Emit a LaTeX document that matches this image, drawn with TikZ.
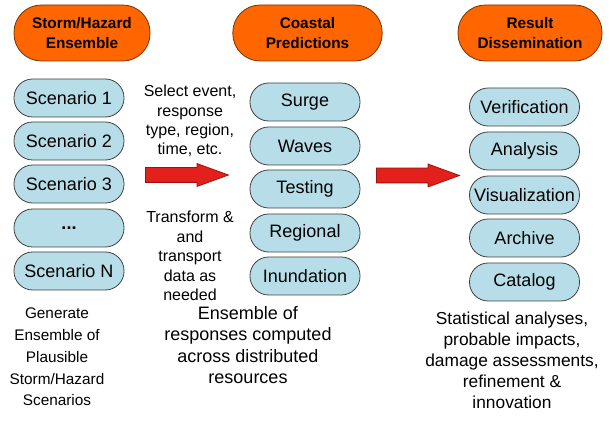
\documentclass[tikz,border=0pt]{standalone}
\usepackage{fontspec}
\setmainfont{Liberation Sans}
\usetikzlibrary{shapes.arrows}
\definecolor{hdr-orange}{HTML}{FF6600}
\definecolor{hdr-edge}{HTML}{7A3300}
\definecolor{pill-blue}{HTML}{B7DEE8}
\definecolor{pill-edge}{HTML}{404040}
\definecolor{arrow-red}{HTML}{E3201C}
\definecolor{arrow-edge}{HTML}{A01212}

\begin{document}
\begin{tikzpicture}[x=0.75pt, y=-0.75pt,
      every node/.style={font=\fontsize{13.5}{16}\selectfont},
      header/.style={draw=hdr-edge, fill=hdr-orange, line width=0.6pt,
          rounded corners=20.5pt, minimum height=42pt, inner sep=0pt,
          align=center, font=\fontsize{11.5}{15}\selectfont\bfseries},
      pill/.style={draw=pill-edge, fill=pill-blue, line width=0.6pt,
          rounded corners=14pt, minimum width=82.5pt, minimum height=28.5pt,
          inner sep=0pt},
      flow/.style={single arrow, draw=arrow-edge, fill=arrow-red, line width=0.6pt,
          minimum height=62.25pt, inner xsep=0pt, inner ysep=5.25pt,
          single arrow head extend=3pt, single arrow tip angle=40,
          single arrow head indent=0pt, anchor=tail},
      note/.style={align=center, inner sep=0pt}]
    \useasboundingbox (0,0) rectangle (610,423);
    % column headers
    \node[header, minimum width=102pt] (ENS) at (82,33) {Storm/Hazard\\Ensemble};
    \node[header, minimum width=112pt] (PRED) at (307.5,33) {Coastal\\Predictions};
    \node[header, minimum width=108pt] (DISS) at (530,33) {Result\\Dissemination};
    % scenarios
    \node[pill] (SC1) at (69,98) {Scenario 1};
    \node[pill] (SC2) at (69,141) {Scenario 2};
    \node[pill] (SC3) at (69,184) {Scenario 3};
    \node[pill] (SCD) at (69,228) {\textbf{...}};
    \node[pill] (SCN) at (69,271) {Scenario N};
    % model runs
    \node[pill] (SURGE) at (305,102) {Surge};
    \node[pill] (WAVES) at (305,146) {Waves};
    \node[pill] (TEST) at (305,189) {Testing};
    \node[pill] (REG) at (305,233) {Regional};
    \node[pill] (INUN) at (305,276) {Inundation};
    % products
    \node[pill] (VERIF) at (524.5,107) {Verification};
    \node[pill] (ANAL) at (524.5,151) {Analysis};
    \node[pill] (VIS) at (524.5,195) {Visualization};
    \node[pill] (ARCH) at (524.5,238) {Archive};
    \node[pill] (CAT) at (524.5,282) {Catalog};
    % block arrows between the columns
    \node[flow] (FL1) at (145,175) {};
    \node[flow] (FL2) at (376,175.5) {};
    % side notes
    \node[note, font=\fontsize{12}{14.6}\selectfont] (SEL) at (190,121)
        {Select event,\\response\\type, region,\\time, etc.};
    \node[note, font=\fontsize{12}{14.6}\selectfont] (XFER) at (190,256)
        {Transform \&\\and\\transport\\data as\\needed};
    % captions under each column
    \node[note, font=\fontsize{11.5}{16.3}\selectfont] (CAPL) at (57,357)
        {Generate\\Ensemble of\\Plausible\\Storm/Hazard\\Scenarios};
    \node[note, font=\fontsize{13.5}{16.1}\selectfont] (CAPM) at (248,345)
        {Ensemble of\\responses computed\\across distributed\\resources};
    \node[note, font=\fontsize{13}{15.75}\selectfont] (CAPR) at (512,360)
        {Statistical analyses,\\probable impacts,\\damage assessments,\\refinement \&\\innovation};
  \end{tikzpicture}
\end{document}
